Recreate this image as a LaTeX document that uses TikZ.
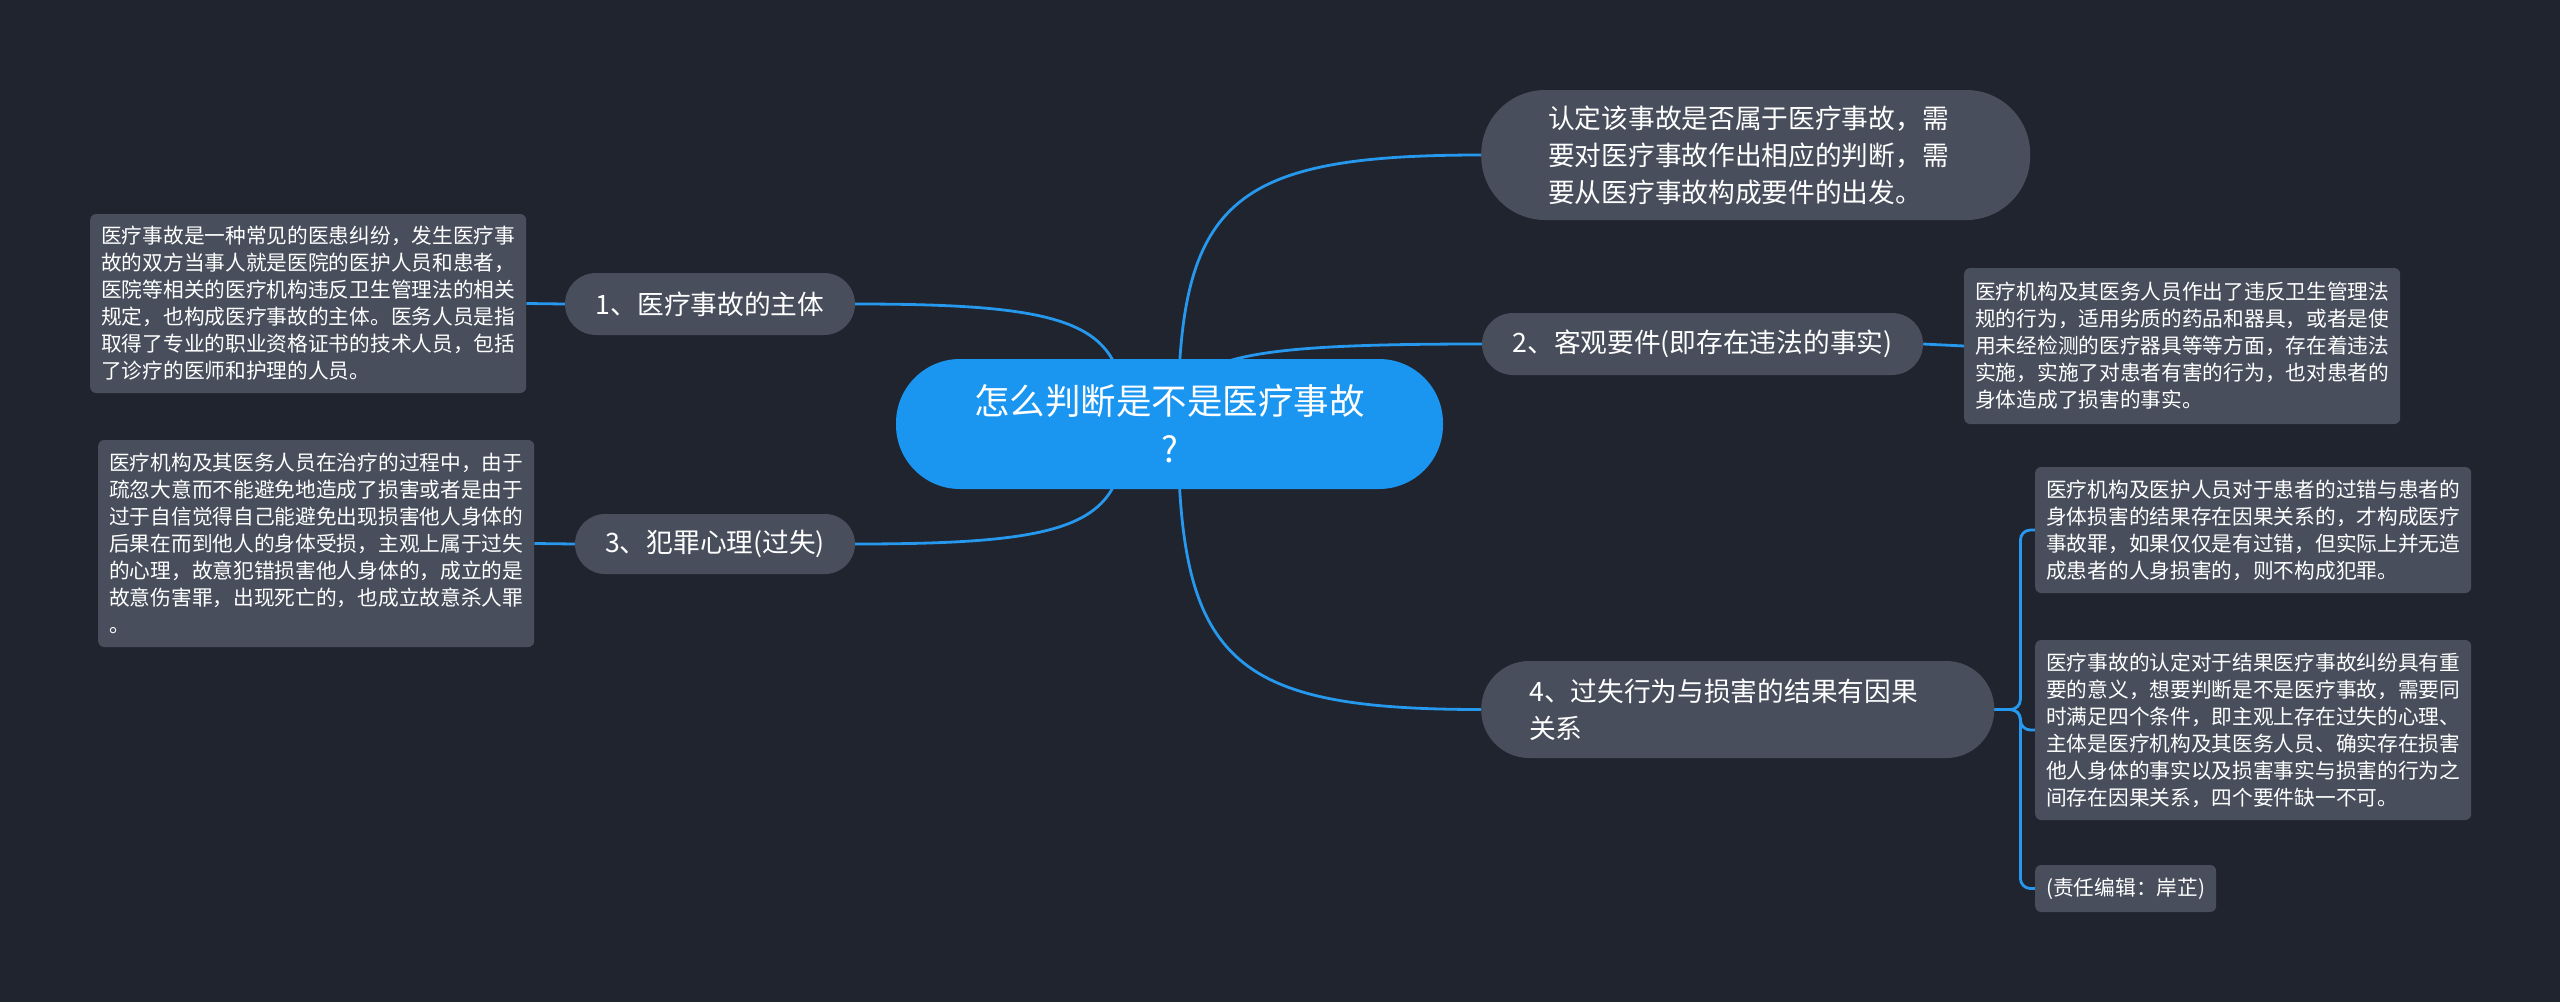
\documentclass[tikz,border=0pt]{standalone}
\usepackage{fontspec}
\setmainfont{Noto Sans CJK SC}
\usetikzlibrary{calc}

\definecolor{bgdark}{RGB}{32,36,46}
\definecolor{topicgray}{RGB}{72,78,92}
\definecolor{rootblue}{RGB}{26,150,240}
\definecolor{linkblue}{RGB}{38,152,238}

\pgfdeclarelayer{canvas}
\pgfdeclarelayer{links}
\pgfsetlayers{canvas,links,main}

\tikzset{
  rootnode/.style={fill=rootblue, text=white, align=center, rounded corners=64pt,
    minimum width=547pt, minimum height=130pt, inner sep=0pt,
    font=\fontsize{35.5pt}{48pt}\selectfont},
  topic/.style={fill=topicgray, text=white, inner sep=0pt,
    font=\fontsize{26.7pt}{37pt}\selectfont},
  leaf/.style={fill=topicgray, text=white, align=left, anchor=west,
    rounded corners=6pt, inner xsep=11pt, inner ysep=0pt,
    font=\fontsize{20.7pt}{27pt}\selectfont},
  link/.style={draw=linkblue, line width=2.8pt},
  branch/.style={to path={.. controls ($(\tikztostart)!0.83!(\tikztostart|-\tikztotarget)$)
      and ($(\tikztotarget)!0.83!(\tikztostart|-\tikztotarget)$) .. (\tikztotarget)}},
}

\begin{document}
\begin{tikzpicture}[x=1pt,y=-1pt]
  \begin{pgfonlayer}{canvas}
    \fill[bgdark] (0,0) rectangle (2560,1002);
  \end{pgfonlayer}
  \useasboundingbox (0,0) rectangle (2560,1002);

  % centre
  \node[rootnode] (root) at (1169.5,424) {怎么判断是不是医疗事故\\?};
  \coordinate (hubL) at (1125,424);
  \coordinate (hubR) at (1178,424);

  % main branches
  \node[topic, anchor=west, align=left, rounded corners=64pt, text width=415pt,
        inner xsep=67pt, minimum height=130pt] (judge) at (1481,155)
    {认定该事故是否属于医疗事故，需\\要对医疗事故作出相应的判断，需\\要从医疗事故构成要件的出发。};
  \node[topic, rounded corners=31pt, minimum width=290pt, minimum height=62pt] (sub1) at (710,304) {1、医疗事故的主体};
  \node[topic, rounded corners=31pt, minimum width=441pt, minimum height=62pt] (sub2) at (1702.5,344) {2、客观要件(即存在违法的事实)};
  \node[topic, rounded corners=30pt, minimum width=280pt, minimum height=60pt] (sub3) at (715,544) {3、犯罪心理(过失)};
  \node[topic, anchor=west, align=left, rounded corners=48pt, text width=417pt,
        inner xsep=48pt, minimum height=97pt] (sub4) at (1481,709.5)
    {4、过失行为与损害的结果有因果\\关系};

  % details
  \node[leaf, minimum height=179pt] (leaf1) at (90,303.5)
    {医疗事故是一种常见的医患纠纷，发生医疗事\\故的双方当事人就是医院的医护人员和患者，\\医院等相关的医疗机构违反卫生管理法的相关\\规定，也构成医疗事故的主体。医务人员是指\\取得了专业的职业资格证书的技术人员，包括\\了诊疗的医师和护理的人员。};
  \node[leaf, minimum height=207pt] (leaf3) at (98,543.5)
    {医疗机构及其医务人员在治疗的过程中，由于\\疏忽大意而不能避免地造成了损害或者是由于\\过于自信觉得自己能避免出现损害他人身体的\\后果在而到他人的身体受损，主观上属于过失\\的心理，故意犯错损害他人身体的，成立的是\\故意伤害罪，出现死亡的，也成立故意杀人罪\\。};
  \node[leaf, minimum height=156pt] (leaf2) at (1964,346)
    {医疗机构及其医务人员作出了违反卫生管理法\\规的行为，适用劣质的药品和器具，或者是使\\用未经检测的医疗器具等等方面，存在着违法\\实施，实施了对患者有害的行为，也对患者的\\身体造成了损害的事实。};
  \node[leaf, minimum height=126pt] (leaf4a) at (2035,530)
    {医疗机构及医护人员对于患者的过错与患者的\\身体损害的结果存在因果关系的，才构成医疗\\事故罪，如果仅仅是有过错，但实际上并无造\\成患者的人身损害的，则不构成犯罪。};
  \node[leaf, minimum height=180pt] (leaf4b) at (2035,730)
    {医疗事故的认定对于结果医疗事故纠纷具有重\\要的意义，想要判断是不是医疗事故，需要同\\时满足四个条件，即主观上存在过失的心理、\\主体是医疗机构及其医务人员、确实存在损害\\他人身体的事实以及损害事实与损害的行为之\\间存在因果关系，四个要件缺一不可。};
  \node[leaf, minimum height=47pt] (leaf4c) at (2035,888.5) {(责任编辑：岸芷)};

  % connectors
  \begin{pgfonlayer}{links}
    \draw[link] (hubR) to[branch] (judge.west);
    \draw[link] (hubR) to[branch] (sub2.west);
    \draw[link] (hubR) to[branch] (sub4.west);
    \draw[link] (hubL) to[branch] (sub1.east);
    \draw[link] (hubL) to[branch] (sub3.east);
    \draw[link] (sub1.west) -- (leaf1.east);
    \draw[link] (sub3.west) -- (leaf3.east);
    \draw[link] (sub2.east) -- (leaf2.west);
    \draw[link, rounded corners=10pt] (sub4.east) -- ++(26,0) |- (leaf4a.west);
    \draw[link, rounded corners=10pt] (sub4.east) -- ++(26,0) |- (leaf4b.west);
    \draw[link, rounded corners=10pt] (sub4.east) -- ++(26,0) |- (leaf4c.west);
  \end{pgfonlayer}
\end{tikzpicture}
\end{document}
